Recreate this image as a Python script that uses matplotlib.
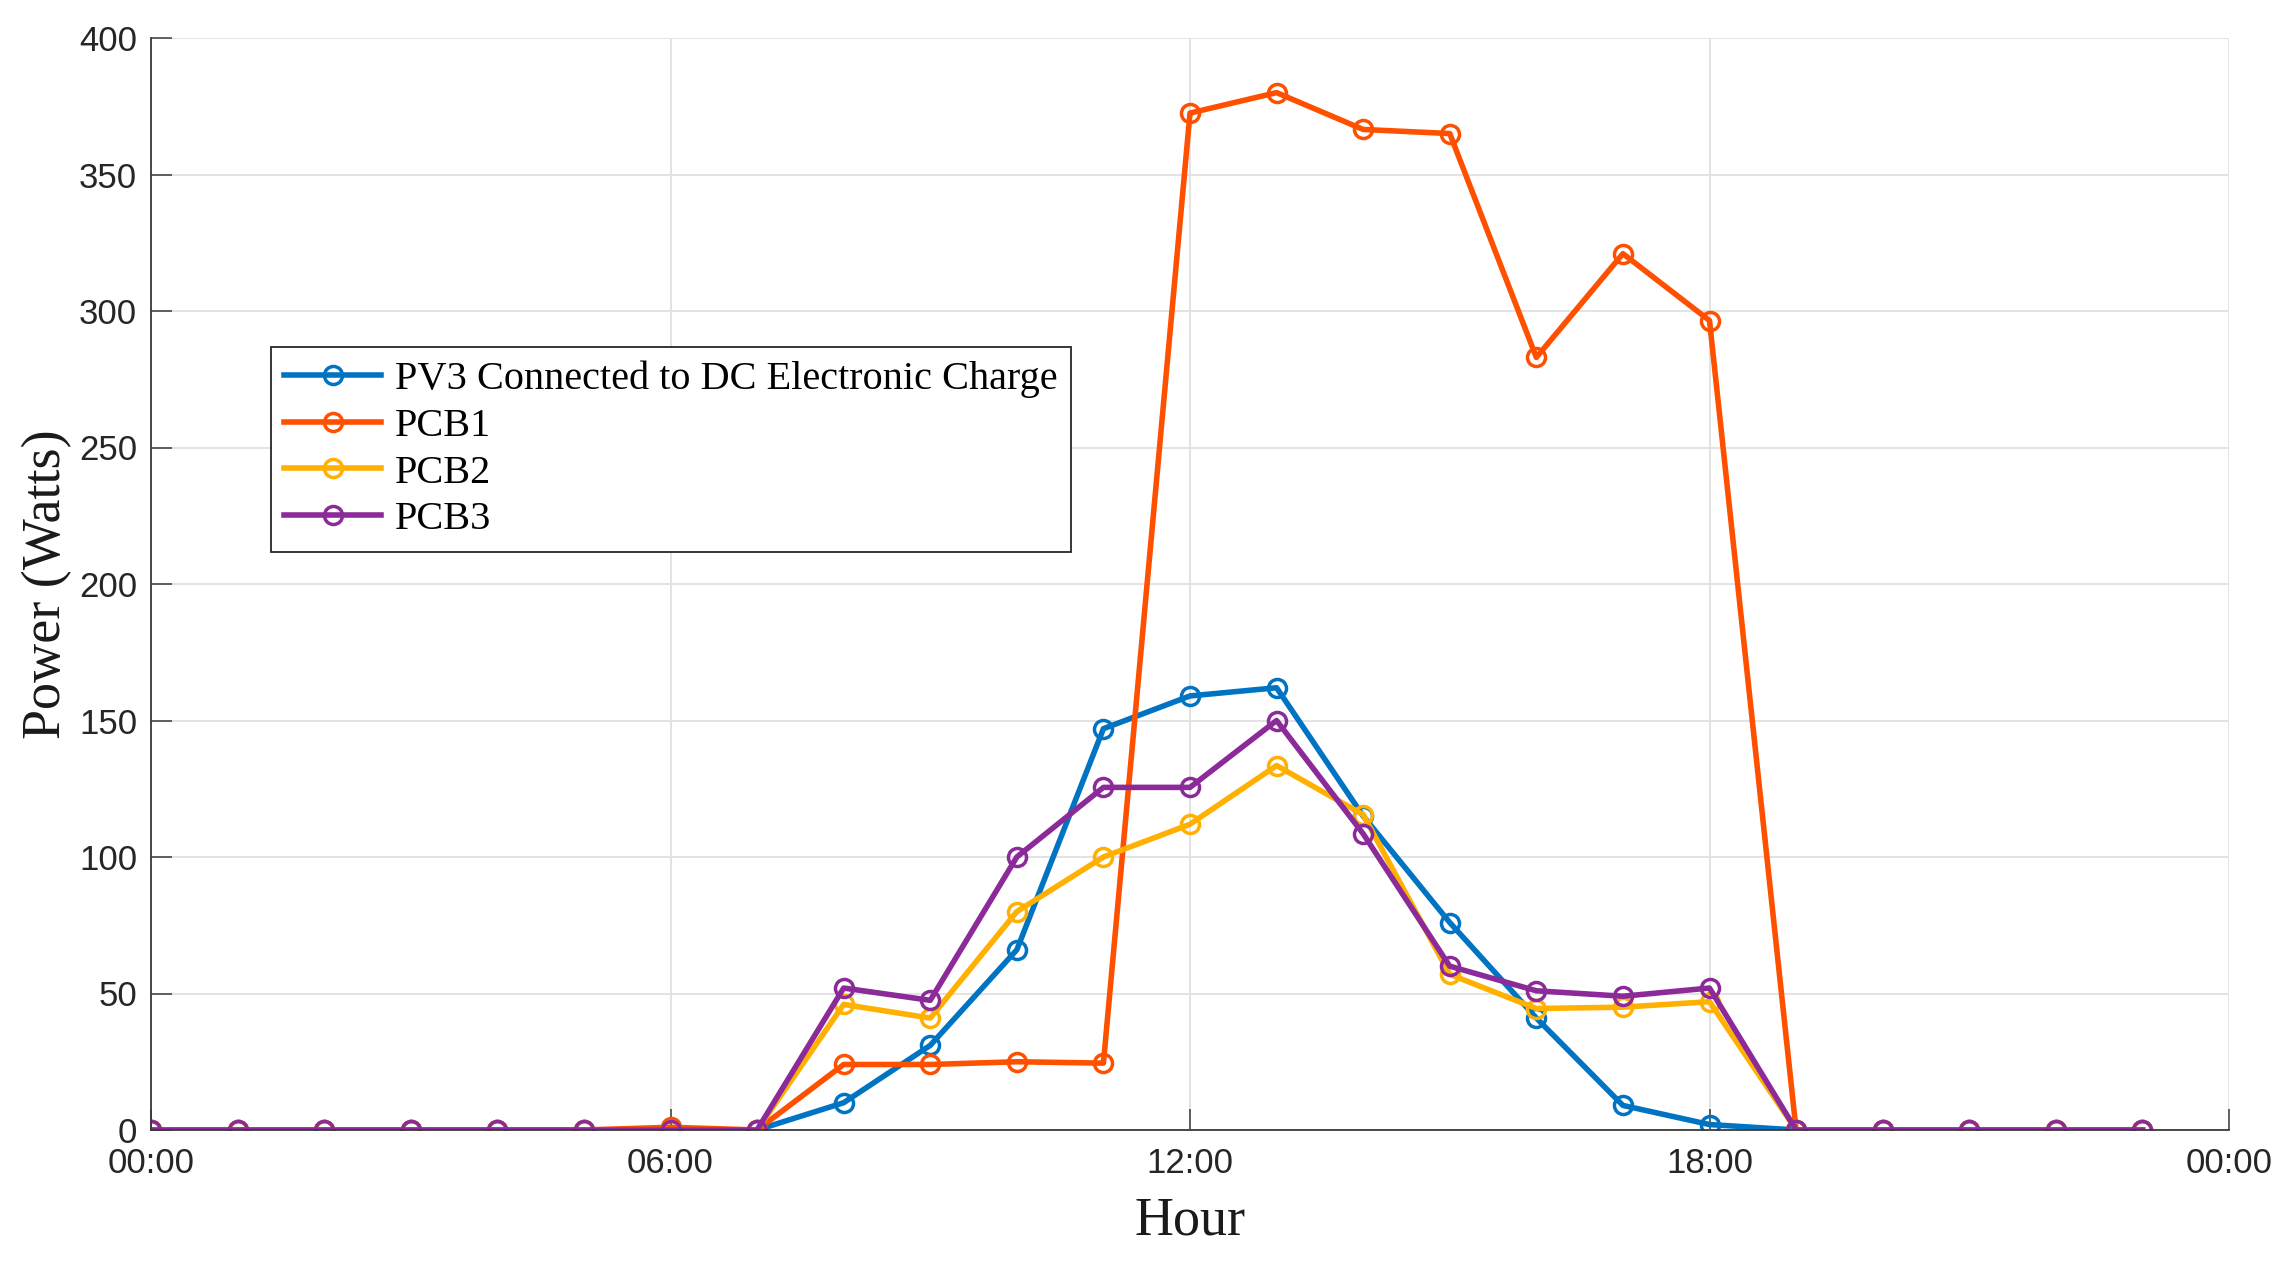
import matplotlib
matplotlib.use("Agg")
import matplotlib.pyplot as plt

hours = list(range(24))
pv3 = [0, 0, 0, 0, 0, 0, 0, 0, 10, 31, 66, 147, 159, 162, 115, 76, 41, 9, 2, 0, 0, 0, 0, 0]
pcb1 = [0, 0, 0, 0, 0, 0, 1, 0, 24, 24, 25, 24.5, 372.5, 380, 366.5, 365, 283, 321, 296.5, 0, 0, 0, 0, 0]
pcb2 = [0, 0, 0, 0, 0, 0, 0, 0, 46, 41, 80, 100, 112, 133.5, 115.5, 57, 44.5, 45, 47, 0, 0, 0, 0, 0]
pcb3 = [0, 0, 0, 0, 0, 0, 0, 0, 52, 47.5, 100, 125.5, 125.5, 150, 108.5, 60, 51, 49, 52, 0, 0, 0, 0, 0]

labels = ["PV3 Connected to DC Electronic Charge", "PCB1", "PCB2", "PCB3"]
colors = ["#0074C2", "#FF5000", "#FFB000", "#8B2A98"]
xticks = [0, 6, 12, 18, 24]
xticklabels = ["00:00", "06:00", "12:00", "18:00", "00:00"]
yticks = [0, 50, 100, 150, 200, 250, 300, 350, 400]

W, H = 2288, 1265
fig = plt.figure(figsize=(W / 100, H / 100), dpi=100)
ax = fig.add_axes([151 / W, 1 - 1130 / H, 2078 / W, 1092 / H])

for series, lab, col in zip([pv3, pcb1, pcb2, pcb3], labels, colors):
    ax.plot(hours, series, color=col, lw=4.0, marker="o", markersize=13,
            markerfacecolor="none", markeredgewidth=2.5, label=lab)

ax.set_xlim(0, 24)
ax.set_ylim(0, 400)
ax.set_xticks(xticks)
ax.set_xticklabels(xticklabels)
ax.set_yticks(yticks)

ax.grid(True, color="#E3E3E3", lw=1.4)
ax.set_axisbelow(True)
for s in ["top", "right"]:
    ax.spines[s].set_visible(False)
for s in ["left", "bottom"]:
    ax.spines[s].set_color("#3a3a3a")
    ax.spines[s].set_linewidth(1.3)

ax.tick_params(axis="both", direction="in", length=15, width=1.1, color="#3a3a3a",
               labelsize=25, labelcolor="#262626")
ax.tick_params(axis="x", pad=12)
ax.tick_params(axis="y", pad=10)
for t in ax.get_xticklabels() + ax.get_yticklabels():
    t.set_fontfamily("Liberation Sans")

ax.set_xlabel("Hour", fontsize=39, fontfamily="Liberation Serif", color="#1a1a1a")
ax.set_ylabel("Power (Watts)", fontsize=39, fontfamily="Liberation Serif", color="#1a1a1a")
ax.xaxis.set_label_coords(0.5, -0.06)
ax.yaxis.set_label_coords(-0.038, 0.5)

leg = ax.legend(loc="upper left", bbox_to_anchor=(0.0578, 0.717), borderaxespad=0,
                prop={"family": "Liberation Serif", "size": 29}, fancybox=False,
                edgecolor="#262626", framealpha=1, handlelength=2.4, handletextpad=0.35,
                labelspacing=0.24, borderpad=0.33)
leg.get_frame().set_linewidth(1.3)

fig.savefig("out.png", dpi=100)
